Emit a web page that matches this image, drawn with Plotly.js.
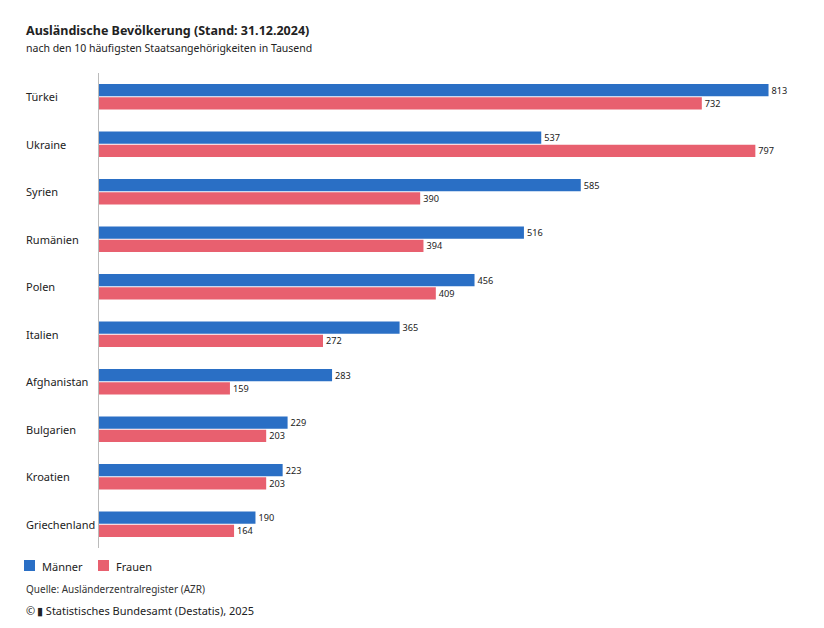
<!DOCTYPE html>
<html><head><meta charset="utf-8">
<script src="https://cdn.plot.ly/plotly-3.0.1.min.js"></script>
<style>body{margin:0;background:#fff}</style>
</head><body>
<div id="chart" style="width:824px;height:628px"></div>
<script>
const countries = ["Türkei","Ukraine","Syrien","Rumänien","Polen","Italien","Afghanistan","Bulgarien","Kroatien","Griechenland"];
const maenner = [813,537,585,516,456,365,283,229,223,190];
const frauen = [732,797,390,394,409,272,159,203,203,164];
const colors = { m: "#2a6fc5", f: "#e8606f" };

const W = 700, L = 99, T = 73, B = 80, H = 628 - T - B;
const font = "Noto Sans, sans-serif";
const px = v => (v - L) / W;      // pixel x -> paper x
const py = v => 1 - (v - T) / H;  // pixel y -> paper y

const bar = (name, vals, color) => ({
  name, type: "bar", orientation: "h", y: countries, x: vals,
  marker: { color }, text: vals.map(String), textposition: "outside",
  textfont: { size: 10.5, color: "#222", family: font }, cliponaxis: false,
  hoverinfo: "x+name"
});

const note = (text, x, y, size, color) => ({
  text, x: px(x), xref: "paper", y: py(y), yref: "paper", xanchor: "left", yanchor: "middle",
  showarrow: false, font: { size, color: color || "#222", family: font }
});

const anns = countries.map(c => ({
  text: c, x: px(24), xref: "paper", y: c, yref: "y", xanchor: "left",
  showarrow: false, font: { size: 11, color: "#222", family: font }
}));
anns.push(
  note("<b>Ausländische Bevölkerung (Stand: 31.12.2024)</b>", 24, 31, 12.5),
  note("nach den 10 häufigsten Staatsangehörigkeiten in Tausend", 24, 48, 10.5),
  note("Männer", 40, 566, 11),
  note("Frauen", 114, 566, 11),
  note("Quelle: Ausländerzentralregister (AZR)", 24, 589, 10, "#333"),
  note("©\u2009▮ Statistisches Bundesamt (Destatis), 2025", 24, 610, 11)
);

const sq = (x, color) => ({
  type: "rect", xref: "paper", yref: "paper", x0: px(x), x1: px(x + 11), y0: py(560), y1: py(571),
  fillcolor: color, line: { width: 0 }
});

Plotly.newPlot("chart", [bar("Männer", maenner, colors.m), bar("Frauen", frauen, colors.f)], {
  width: 824, height: 628, margin: { l: L, r: 824 - L - W, t: T, b: B },
  paper_bgcolor: "#fff", plot_bgcolor: "#fff",
  barmode: "group", bargap: 0.44, bargroupgap: 0.08,
  xaxis: { range: [0, 850], visible: false },
  yaxis: { autorange: "reversed", showticklabels: false, ticks: "", showgrid: false, zeroline: false,
           showline: true, linecolor: "#bbb", linewidth: 1 },
  showlegend: false,
  shapes: [sq(24, colors.m), sq(98, colors.f)],
  annotations: anns
}, { displayModeBar: false, staticPlot: true });
</script>
</body></html>
